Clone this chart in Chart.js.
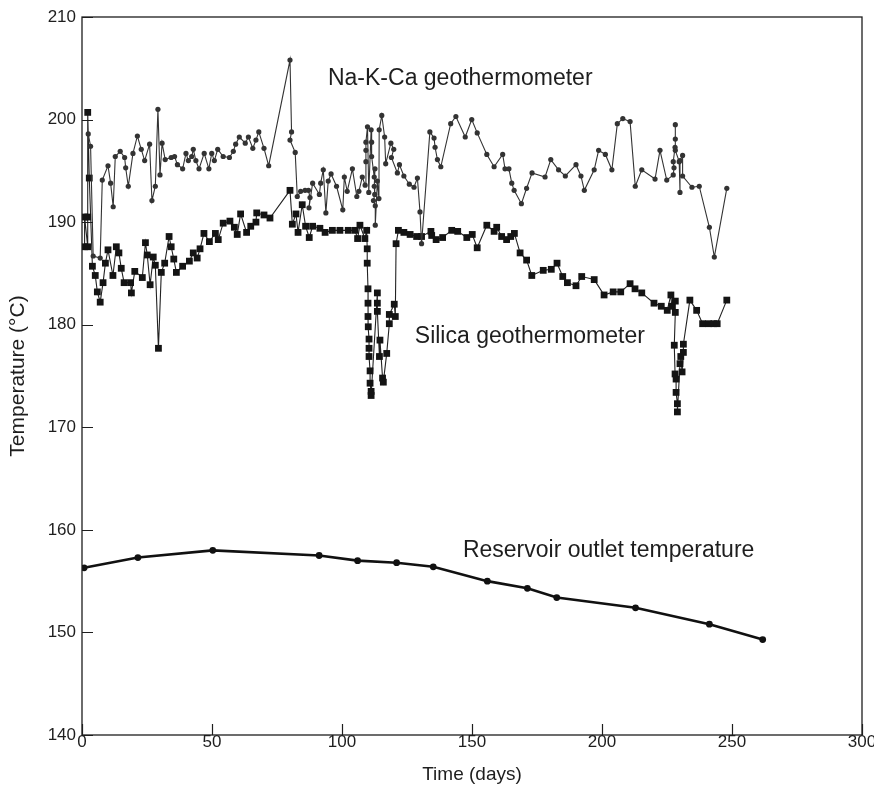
<!DOCTYPE html>
<html>
<head>
<meta charset="utf-8">
<script src="https://cdn.jsdelivr.net/npm/chart.js@4.4.1/dist/chart.umd.min.js"></script>
<style>
  html, body { margin: 0; padding: 0; background: #fff; }
</style>
</head>
<body>
<canvas id="chart" width="874" height="788"></canvas>
<script>
// Na-K-Ca geothermometer (circles)
const nakcaDays = [2.4, 3.3, 4.3, 7.0, 7.8, 10, 11, 12, 12.8, 14.7, 16.4, 16.8, 17.8, 19.6, 21.3, 22.8, 24.1, 26, 26.9, 28.2,
  29.2, 30, 30.8, 32, 34.3, 35.6, 36.7, 38.7, 40, 40.9, 42.2, 42.8, 43.8, 45, 47, 48.8, 49.9, 50.9, 52.2, 54.3,
  56.7, 58.2, 59.1, 60.5, 62.8, 64, 65.7, 66.9, 68, 70, 71.8, 80, 80.6, 80, 82, 82.8, 84.1, 85.8, 87.1, 87.7,
  87.3, 88.7, 91.3, 91.8, 92.8, 93.8, 94.7, 95.8, 97.9, 100.3, 100.9, 102, 104, 105.7, 106.5, 107.8, 108.9, 109.2, 109.2, 109.2,
  109.8, 110.3, 111.2, 111.4, 111.4, 112.4, 112.7, 112.4, 112.6, 112.1, 112.8, 112.8, 113.6, 114.2, 114.3, 115.3, 116.4, 116.8,
  118.8, 119.9, 119, 121.3, 122.1, 123.8, 125.9, 127.7, 129, 130, 130.6, 133.8, 135.4, 135.8, 136.7, 138, 141.8, 143.8,
  147.4, 149.9, 152, 155.7, 158.5, 161.8, 162.7, 164.2, 165.3, 166.2, 169, 171, 173.1, 178.1, 180.3, 183.3, 185.9, 190,
  191.9, 193.2, 197, 198.7, 201.3, 203.8, 205.9, 208, 210.8, 212.8, 215.3, 220.4, 222.3, 224.9, 227.4, 227.7, 227.4, 228.1,
  228.2, 228.2, 228.2, 229.7, 230, 230, 231, 231, 234.6, 237.4, 241.3, 243.2, 248];
const nakcaTemps = [198.6, 197.4, 186.7, 186.5, 194.1, 195.5, 193.8, 191.5, 196.4, 196.9, 196.3, 195.3, 193.5, 196.7, 198.4, 197.1, 196.0, 197.6, 192.1, 193.5,
  201.0, 194.6, 197.7, 196.1, 196.3, 196.4, 195.6, 195.2, 196.7, 196.0, 196.4, 197.1, 196.0, 195.2, 196.7, 195.2, 196.7, 196.0, 197.1, 196.4,
  196.3, 196.9, 197.6, 198.3, 197.7, 198.3, 197.2, 198.0, 198.8, 197.2, 195.5, 205.8, 198.8, 198.0, 196.8, 192.5, 193.0, 193.1, 193.1, 192.4,
  191.4, 193.8, 192.7, 193.8, 195.1, 190.9, 194.0, 194.7, 193.5, 191.2, 194.4, 193.0, 195.2, 192.5, 193.0, 194.4, 193.6, 195.9, 197.0, 197.8,
  199.3, 192.9, 199.0, 197.8, 196.4, 194.4, 195.2, 193.5, 192.7, 192.1, 191.6, 189.7, 194.0, 192.3, 199.0, 200.4, 198.3, 195.7,
  197.7, 197.1, 196.3, 194.8, 195.6, 194.5, 193.7, 193.4, 194.3, 191.0, 187.9, 198.8, 198.2, 197.3, 196.1, 195.4, 199.6, 200.3,
  198.3, 200.0, 198.7, 196.6, 195.4, 196.6, 195.2, 195.2, 193.8, 193.1, 191.8, 193.3, 194.8, 194.4, 196.1, 195.1, 194.5, 195.6,
  194.5, 193.1, 195.1, 197.0, 196.6, 195.1, 199.6, 200.1, 199.8, 193.5, 195.1, 194.2, 197.0, 194.1, 194.6, 195.3, 195.9, 197.3,
  198.1, 199.5, 197.0, 195.9, 192.9, 196.0, 196.5, 194.5, 193.4, 193.5, 189.5, 186.6, 193.3];

// Silica geothermometer (squares)
const silicaDays = [1, 1, 2.2, 2.2, 2.2, 2.8, 4, 5.1, 5.9, 7, 8.1, 9, 10, 11.9, 13.2, 14.2, 15.1, 16.2, 18.7, 19,
  20.3, 23.2, 24.4, 25.1, 26.2, 27.4, 28.2, 29.4, 30.5, 31.8, 33.5, 34.3, 35.3, 36.3, 38.7, 41.3, 42.8, 44.3, 45.4, 46.9,
  49, 51.3, 52.4, 54.3, 56.9, 58.6, 59.7, 61, 63.3, 64.9, 66.9, 67.2, 70, 72.3, 80, 80.9, 82.3, 83.1, 84.7, 86,
  87.4, 88.7, 91.5, 93.5, 96.3, 99.2, 102.4, 105, 106, 106.9, 108.8, 109.5, 109.7, 109.7, 110, 110, 110, 110.1, 110.4, 110.4,
  110.4, 110.8, 110.8, 111.2, 111.2, 113.6, 113.6, 113.6, 114.4, 114.6, 115.6, 115.9, 117.2, 118.2, 118.2, 120.1, 120.5, 120.8, 121.7, 123.8,
  126.2, 128.7, 130.6, 134.2, 134.5, 136.2, 138.7, 142.2, 144.5, 148, 150.1, 152, 155.7, 158.5, 159.5, 161.4, 163.3, 164.9, 166.3, 168.5,
  171, 173, 177.4, 180.5, 182.7, 184.9, 186.7, 190, 192.2, 197, 200.8, 204.3, 207.2, 210.8, 212.7, 215.3, 220, 222.8, 225.1, 226.5,
  226.8, 228.2, 228.2, 227.8, 228.1, 228.5, 228.5, 229, 229, 230, 230.3, 230.8, 231.3, 231.3, 233.8, 236.4, 238.7, 241, 243, 244.3, 248];
const silicaTemps = [187.6, 190.5, 187.6, 190.5, 200.7, 194.3, 185.7, 184.8, 183.2, 182.2, 184.1, 186.0, 187.3, 184.8, 187.6, 187.0, 185.5, 184.1, 184.1, 183.1,
  185.2, 184.6, 188.0, 186.8, 183.9, 186.6, 185.8, 177.7, 185.1, 186.0, 188.6, 187.6, 186.4, 185.1, 185.7, 186.2, 187.0, 186.5, 187.4, 188.9,
  188.1, 188.9, 188.3, 189.9, 190.1, 189.5, 188.8, 190.8, 189.0, 189.6, 190.0, 190.9, 190.7, 190.4, 193.1, 189.8, 190.8, 189.0, 191.7, 189.6,
  188.5, 189.6, 189.4, 189.0, 189.2, 189.2, 189.2, 189.2, 188.4, 189.7, 188.4, 189.2, 187.4, 186.0, 183.5, 182.1, 180.8, 179.8, 178.6, 177.7,
  176.9, 175.5, 174.3, 173.5, 173.1, 183.1, 182.1, 181.3, 176.9, 178.5, 174.8, 174.4, 177.2, 180.1, 181.0, 182.0, 180.8, 187.9, 189.2, 189.0,
  188.8, 188.6, 188.6, 189.1, 188.7, 188.3, 188.5, 189.2, 189.1, 188.5, 188.8, 187.5, 189.7, 189.1, 189.5, 188.6, 188.3, 188.6, 188.9, 187.0,
  186.3, 184.8, 185.3, 185.4, 186.0, 184.7, 184.1, 183.8, 184.7, 184.4, 182.9, 183.2, 183.2, 184.0, 183.5, 183.1, 182.1, 181.8, 181.4, 182.9,
  181.8, 182.3, 181.2, 178.0, 175.2, 174.7, 173.4, 172.3, 171.5, 176.2, 176.9, 175.4, 177.3, 178.1, 182.4, 181.4, 180.1, 180.1, 180.1, 180.1, 182.4];

// Reservoir outlet temperature
const outletDays = [0.8, 21.5, 50.3, 91.2, 106, 121, 135.1, 155.9, 171.3, 182.6, 212.9, 241.3, 261.8];
const outletTemps = [156.3, 157.3, 158.0, 157.5, 157.0, 156.8, 156.4, 155.0, 154.3, 153.4, 152.4, 150.8, 149.3];

const xTickValues = [0, 50, 100, 150, 200, 250, 300];
const yTickValues = [140, 150, 160, 170, 180, 190, 200, 210];

// in-plot labels: [text, day, temperature at baseline]
const seriesLabels = [
  ['Na-K-Ca geothermometer', 94.6, 203.4],
  ['Silica geothermometer', 128, 178.2],
  ['Reservoir outlet temperature', 146.5, 157.4]
];

const FONT = '"Liberation Sans", Arial, Helvetica, sans-serif';
const INK = '#1e1e1e';

const toPoints = (xs, ys) => xs.map((x, i) => ({ x: x, y: ys[i] }));

// frame round the plot and inward tick marks
const framePlugin = {
  id: 'frame',
  afterDraw(chart) {
    const { ctx, chartArea: a, scales } = chart;
    ctx.save();
    ctx.strokeStyle = INK;
    ctx.lineWidth = 1.3;
    ctx.strokeRect(a.left, a.top, a.right - a.left, a.bottom - a.top);
    ctx.beginPath();
    scales.x.ticks.forEach(t => {
      const px = Math.round(scales.x.getPixelForValue(t.value)) + 0.5;
      ctx.moveTo(px, a.bottom);
      ctx.lineTo(px, a.bottom - 11);
    });
    scales.y.ticks.forEach(t => {
      const py = Math.round(scales.y.getPixelForValue(t.value)) + 0.5;
      ctx.moveTo(a.left, py);
      ctx.lineTo(a.left + 11, py);
    });
    ctx.lineWidth = 1.2;
    ctx.stroke();
    ctx.restore();
  }
};

// text labels next to the curves
const labelPlugin = {
  id: 'seriesLabels',
  afterDatasetsDraw(chart) {
    const { ctx, scales } = chart;
    ctx.save();
    ctx.font = '23px ' + FONT;
    ctx.fillStyle = INK;
    ctx.textAlign = 'left';
    ctx.textBaseline = 'alphabetic';
    seriesLabels.forEach(([text, d, t]) => {
      ctx.fillText(text, scales.x.getPixelForValue(d), scales.y.getPixelForValue(t));
    });
    ctx.restore();
  }
};

new Chart(document.getElementById('chart'), {
  type: 'scatter',
  data: {
    datasets: [
      {
        label: 'Na-K-Ca geothermometer',
        data: toPoints(nakcaDays, nakcaTemps),
        showLine: true,
        borderColor: '#333333',
        borderWidth: 1.1,
        pointStyle: 'circle',
        pointRadius: 2.6,
        pointBackgroundColor: '#333333',
        pointBorderWidth: 0
      },
      {
        label: 'Silica geothermometer',
        data: toPoints(silicaDays, silicaTemps),
        showLine: true,
        borderColor: '#222222',
        borderWidth: 1.1,
        pointStyle: 'rect',
        pointRadius: 4.8,
        pointBackgroundColor: '#141414',
        pointBorderWidth: 0
      },
      {
        label: 'Reservoir outlet temperature',
        data: toPoints(outletDays, outletTemps),
        showLine: true,
        borderColor: '#111111',
        borderWidth: 2.6,
        pointStyle: 'circle',
        pointRadius: 3.4,
        pointBackgroundColor: '#111111',
        pointBorderWidth: 0
      }
    ]
  },
  options: {
    responsive: false,
    animation: false,
    layout: { padding: { left: 0, right: 12, top: 17, bottom: 0 } },
    plugins: { legend: { display: false }, tooltip: { enabled: false } },
    scales: {
      x: {
        type: 'linear',
        min: 0,
        max: 300,
        afterBuildTicks: s => { s.ticks = xTickValues.map(v => ({ value: v })); },
        afterFit: s => { s.height = 53; s.paddingLeft = 0; s.paddingRight = 0; },
        grid: { display: false, drawTicks: false },
        border: { display: false },
        ticks: { color: INK, font: { family: FONT, size: 17 }, padding: -3, maxRotation: 0, autoSkip: false },
        title: { display: true, text: 'Time (days)', color: INK, font: { family: FONT, size: 19 }, padding: { top: 0, bottom: 2 } }
      },
      y: {
        type: 'linear',
        min: 140,
        max: 210,
        afterBuildTicks: s => { s.ticks = yTickValues.map(v => ({ value: v })); },
        afterFit: s => { s.width = 82; s.paddingTop = 0; s.paddingBottom = 0; },
        grid: { display: false, drawTicks: false },
        border: { display: false },
        ticks: { color: INK, font: { family: FONT, size: 17 }, padding: 6, autoSkip: false },
        title: { display: true, text: 'Temperature (°C)', color: INK, font: { family: FONT, size: 21 }, padding: { top: 6, bottom: 0 } }
      }
    }
  },
  plugins: [framePlugin, labelPlugin]
});
</script>
</body>
</html>
